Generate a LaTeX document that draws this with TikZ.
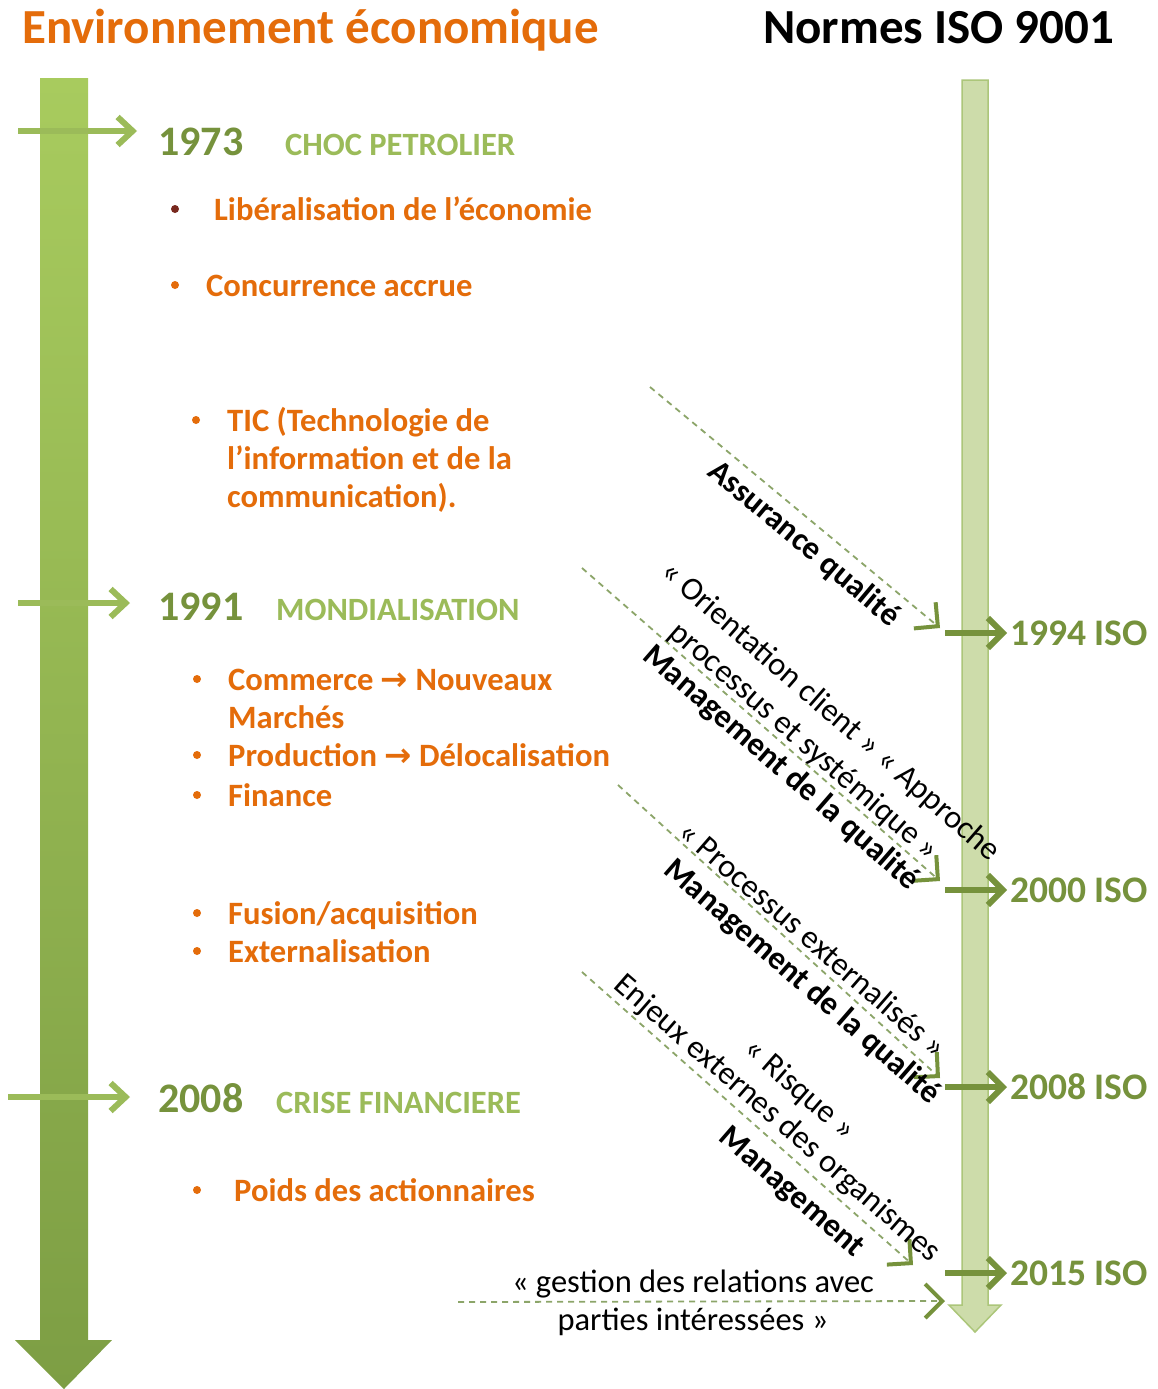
\documentclass[tikz,border=0pt]{standalone}
\usepackage{fontspec}
\setmainfont{Carlito}
\newfontfamily\arwfont{DejaVu Sans}
\usetikzlibrary{arrows.meta}
\definecolor{orng}{RGB}{228,108,10}
\definecolor{bulletdark}{RGB}{120,40,30}
\definecolor{yeargreen}{RGB}{118,146,60}
\definecolor{catgreen}{RGB}{155,187,89}
\definecolor{lefttop}{RGB}{168,203,94}
\definecolor{leftbot}{RGB}{125,158,68}
\definecolor{rightfill}{RGB}{205,220,170}
\definecolor{rightedge}{RGB}{172,198,122}
\definecolor{dashgreen}{RGB}{140,165,105}
\definecolor{leftarrow}{RGB}{155,187,89}
\begin{document}
\begin{tikzpicture}[x=1pt,y=-1pt,
  title/.style={font=\fontsize{49}{56}\selectfont\bfseries, anchor=base west, inner sep=0},
  year/.style={font=\fontsize{42}{50}\selectfont\bfseries, text=yeargreen, anchor=base west, inner sep=0},
  cat/.style={font=\fontsize{32.5}{38}\selectfont\bfseries, text=catgreen, anchor=base west, inner sep=0},
  item/.style={font=\fontsize{32.6}{38}\selectfont\bfseries, text=orng, anchor=base west, inner sep=0},
  bul/.style={circle, fill=orng, inner sep=0, minimum size=8pt},
  iso/.style={font=\fontsize{37.5}{44}\selectfont\bfseries, text=yeargreen, anchor=base west, inner sep=0},
  diag/.style={font=\fontsize{32.5}{40}\selectfont, rotate=-41, inner sep=0, align=center},
  diagb/.style={font=\fontsize{32.5}{40}\selectfont\bfseries, rotate=-41, inner sep=0, align=center},
  plain/.style={font=\fontsize{32.5}{40}\selectfont, anchor=base, inner sep=0},
  leftarr/.style={draw=leftarrow, line width=6pt, -{Straight Barb[length=15pt,width=28pt]}},
  isoarr/.style={draw=yeargreen, line width=6pt, -{Straight Barb[length=15pt,width=30pt]}},
  dasharr/.style={draw=dashgreen, line width=1.8pt, dash pattern=on 6pt off 5pt, -{Straight Barb[length=17pt,width=34pt,line width=4pt,color=yeargreen]}},
]
\useasboundingbox[fill=white] (0,0) rectangle (1158,1389);

% big left arrow
\path[top color=lefttop, bottom color=leftbot] (40,78) -- (88,78) -- (88,1340) -- (112,1340) -- (64,1389) -- (15,1340) -- (40,1340) -- cycle;
% right arrow
\path[fill=rightfill, draw=rightedge, line width=1.5pt] (962,80) -- (988,80) -- (988,1305) -- (1001,1305) -- (975,1332) -- (949,1305) -- (962,1305) -- cycle;

% titles
\node[title, text=orng] (t1) at (22,44) {Environnement économique};
\node[title, text=black] (t2) at (763,44) {Normes ISO 9001};

% left horizontal arrows
\coordinate (a73s) at (18,131); \coordinate (a73e) at (137,131);
\coordinate (a91s) at (18,603); \coordinate (a91e) at (130,603);
\coordinate (a08s) at (8,1097); \coordinate (a08e) at (130,1097);
\draw[leftarr] (a73s) -- (a73e);
\draw[leftarr] (a91s) -- (a91e);
\draw[leftarr] (a08s) -- (a08e);

% 1973
\node[year] (y73) at (158,155) {1973};
\node[cat] (c73) at (285,155) {CHOC PETROLIER};
\node[bul, fill=bulletdark] (b1) at (175,209) {};
\node[item] (i1) at (214,220) {Libéralisation de l’économie};
\node[bul] (b2) at (175,285) {};
\node[item] (i2) at (206,296) {Concurrence accrue};
\node[bul] (b3) at (196,420) {};
\node[item] (i3a) at (227,431) {TIC (Technologie de};
\node[item] (i3b) at (227,469) {l’information et de la};
\node[item] (i3c) at (227,507) {communication).};

% 1991
\node[year] (y91) at (158,620) {1991};
\node[cat] (c91) at (276,620) {MONDIALISATION};
\node[bul] (b4) at (197,679) {};
\node[item] (i4a) at (228,690) {Commerce {\arwfont →} Nouveaux};
\node[item] (i4b) at (228,728) {Marchés};
\node[bul] (b5) at (197,755) {};
\node[item] (i5) at (228,766) {Production {\arwfont →} Délocalisation};
\node[bul] (b6) at (197,795) {};
\node[item] (i6) at (228,806) {Finance};
\node[bul] (b7) at (197,913) {};
\node[item] (i7) at (228,924) {Fusion/acquisition};
\node[bul] (b8) at (197,951) {};
\node[item] (i8) at (228,962) {Externalisation};

% 2008
\node[year] (y08) at (158,1112) {2008};
\node[cat] (c08) at (276,1113) {CRISE FINANCIERE};
\node[bul] (b9) at (197,1190) {};
\node[item] (i9) at (234,1201) {Poids des actionnaires};

% right ISO arrows and labels
\coordinate (r94s) at (945,633); \coordinate (r94e) at (1007,633);
\coordinate (r00s) at (945,890); \coordinate (r00e) at (1007,890);
\coordinate (r08s) at (945,1087); \coordinate (r08e) at (1007,1087);
\coordinate (r15s) at (945,1273); \coordinate (r15e) at (1007,1273);
\draw[isoarr] (r94s) -- (r94e);
\draw[isoarr] (r00s) -- (r00e);
\draw[isoarr] (r08s) -- (r08e);
\draw[isoarr] (r15s) -- (r15e);
\node[iso] (s94) at (1010,645) {1994 ISO};
\node[iso] (s00) at (1010,902) {2000 ISO};
\node[iso] (s08) at (1010,1099) {2008 ISO};
\node[iso] (s15) at (1010,1285) {2015 ISO};

% dashed diagonal arrows
\coordinate (d1s) at (650,387); \coordinate (d1e) at (940,628);
\coordinate (d2s) at (582,568); \coordinate (d2e) at (940,881);
\coordinate (d3s) at (618,785); \coordinate (d3e) at (940,1078);
\coordinate (d4s) at (582,972); \coordinate (d4e) at (913,1265);
\coordinate (d5s) at (458,1302); \coordinate (d5e) at (945,1301);
\draw[dasharr] (d1s) -- (d1e);
\draw[dasharr] (d2s) -- (d2e);
\draw[dasharr] (d3s) -- (d3e);
\draw[dasharr] (d4s) -- (d4e);
\draw[dasharr] (d5s) -- (d5e);

% diagonal labels
\node[diagb, rotate=1] (n1) at (804,544) {Assurance qualité};
\node[diag] (n2) at (817,727) {« Orientation client » « Approche\\processus et systémique »};
\node[diagb] (n3) at (781,768) {Management de la qualité};
\node[diag] (n4) at (813,939) {« Processus externalisés »};
\node[diagb] (n5) at (802,982) {Management de la qualité};
\node[diag] (n6) at (777,1119) {Enjeux externes des organismes};
\node[diag] (n7) at (799,1090) {« Risque »};
\node[diagb] (n8) at (791,1193) {Management};

% bottom label
\node[plain] (g1) at (693,1292) {« gestion des relations avec};
\node[plain] (g2) at (693,1330) {parties intéressées »};
\end{tikzpicture}
\end{document}
